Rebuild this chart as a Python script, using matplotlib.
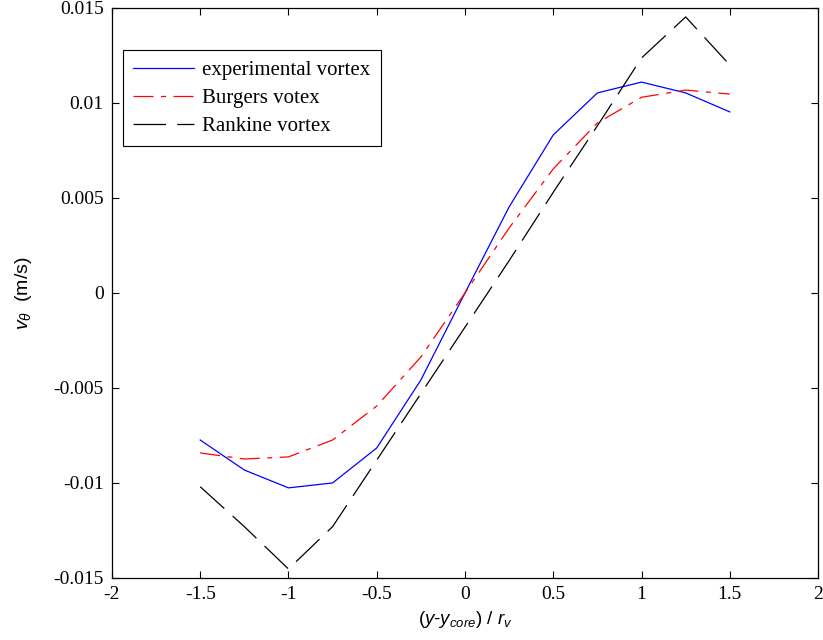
import matplotlib
matplotlib.use("Agg")
import matplotlib.pyplot as plt
from matplotlib.ticker import FuncFormatter

plt.rcParams['mathtext.fontset'] = 'custom'
plt.rcParams['mathtext.rm'] = 'Liberation Sans'
plt.rcParams['mathtext.it'] = 'Liberation Sans:italic'

# normalised distance from vortex core
r_norm = [-1.5, -1.25, -1.0, -0.75, -0.5, -0.25, 0.0, 0.25, 0.5, 0.75, 1.0, 1.25, 1.5]

# tangential velocity (m/s)
v_experimental = [-0.00774, -0.00932, -0.01026, -0.0100, -0.00816, -0.00458, 0.0,
                  0.00453, 0.00832, 0.01053, 0.0111, 0.01053, 0.00953]
v_burgers = [-0.00842, -0.00874, -0.00863, -0.00774, -0.00595, -0.00337, 0.0,
             0.00342, 0.00653, 0.00895, 0.0103, 0.01068, 0.01047]
v_rankine = [-0.0102, -0.0123, -0.01453, -0.0123, -0.0088, -0.0053, -0.0018,
             0.0017, 0.0053, 0.0088, 0.01237, 0.01453, 0.0120]

labels = ['experimental vortex', 'Burgers votex', 'Rankine vortex']

xticks = [-2, -1.5, -1, -0.5, 0, 0.5, 1, 1.5, 2]
yticks = [-0.015, -0.01, -0.005, 0, 0.005, 0.01, 0.015]

fig = plt.figure(figsize=(8.23, 6.4), dpi=100)
ax = fig.add_axes([0.136, 0.097, 0.858, 0.8905])

ax.plot(r_norm, v_experimental, color='blue', lw=0.9, ls='-', label=labels[0])
ax.plot(r_norm, v_burgers, color='red', lw=0.9, ls=(0, (16, 6, 4, 6)), label=labels[1])
ax.plot(r_norm, v_rankine, color='black', lw=0.9, ls=(0, (26, 9)), label=labels[2])

ax.set_xlim(-2, 2)
ax.set_ylim(-0.015, 0.015)
ax.set_xticks(xticks)
ax.set_yticks(yticks)
fmt = FuncFormatter(lambda v, p: '%g' % v)
ax.xaxis.set_major_formatter(fmt)
ax.yaxis.set_major_formatter(fmt)

ax.tick_params(direction='in', top=True, right=True, length=5, width=0.8,
               labelsize=14, pad=6)
for lab in ax.get_xticklabels() + ax.get_yticklabels():
    lab.set_fontfamily('Liberation Serif')
for s in ax.spines.values():
    s.set_linewidth(0.9)

ax.set_ylabel(r'$v_{\theta}$  (m/s)', fontsize=14, fontfamily='Liberation Sans', labelpad=14)
ax.set_xlabel(r'$(y$-$y_{core}$) / $r_v$', fontsize=13.5, fontfamily='Liberation Sans', labelpad=4)

leg = ax.legend(loc='upper left', bbox_to_anchor=(0.0156, 0.926), borderaxespad=0,
                fancybox=False, edgecolor='black', framealpha=1,
                prop={'family': 'Liberation Serif', 'size': 15},
                handlelength=2.9, handletextpad=0.4, borderpad=0.5, labelspacing=0.4)
leg.get_frame().set_linewidth(0.8)

fig.savefig('out.png', dpi=100)
